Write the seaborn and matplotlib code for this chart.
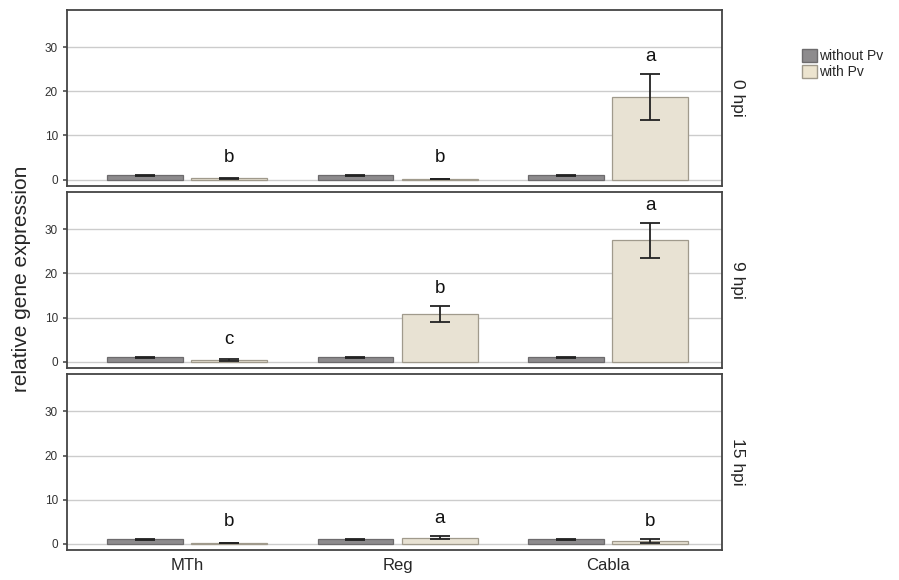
import matplotlib
matplotlib.use("Agg")
import matplotlib.pyplot as plt
import numpy as np
import pandas as pd
import seaborn as sns
from matplotlib.patches import Patch

genes = ["MTh", "Reg", "Cabla"]
times = ["0 hpi", "9 hpi", "15 hpi"]
treatments = ["without Pv", "with Pv"]

# mean relative expression, rows = time, cols = gene
without_pv = [[1.0, 1.0, 1.0], [1.0, 1.0, 1.0], [1.0, 1.0, 1.0]]
with_pv = [[0.3, 0.15, 18.8], [0.4, 10.8, 27.5], [0.15, 1.35, 0.65]]
# standard errors
without_err = [[0.15, 0.15, 0.15], [0.15, 0.15, 0.15], [0.15, 0.15, 0.15]]
with_err = [[0.1, 0.05, 5.2], [0.15, 1.9, 4.0], [0.05, 0.4, 0.4]]
# significance letters for "with Pv" bars
letters = [["b", "b", "a"], ["c", "b", "a"], ["b", "a", "b"]]

colors = {"without Pv": "#8d8b8d", "with Pv": "#ece4cf"}
edges = {"without Pv": "#6d6b6d", "with Pv": "#a09a8c"}

rows = []
for ti, t in enumerate(times):
    for gi, g in enumerate(genes):
        rows.append({"time": t, "gene": g, "treatment": "without Pv",
                     "value": without_pv[ti][gi], "err": without_err[ti][gi]})
        rows.append({"time": t, "gene": g, "treatment": "with Pv",
                     "value": with_pv[ti][gi], "err": with_err[ti][gi]})
df = pd.DataFrame(rows)

sns.set_theme(style="white")
plt.rcParams["font.family"] = ["Liberation Sans", "DejaVu Sans"]

fig, axes = plt.subplots(3, 1, figsize=(8.99, 5.8), dpi=100, sharex=True)
fig.subplots_adjust(left=0.0745, right=0.803, top=0.983, bottom=0.052, hspace=0.035)

for ti, (ax, t) in enumerate(zip(axes, times)):
    sub = df[df["time"] == t]
    sns.barplot(data=sub, x="gene", y="value", hue="treatment", order=genes,
                hue_order=treatments, palette=colors, width=0.8, gap=0.1,
                errorbar=None, legend=False, ax=ax, zorder=2)
    for cont, tr in zip(ax.containers, treatments):
        for gi, bar in enumerate(cont):
            bar.set_edgecolor(edges[tr])
            bar.set_linewidth(0.9)
            cx = bar.get_x() + bar.get_width() / 2
            val = sub[(sub["gene"] == genes[gi]) & (sub["treatment"] == tr)]
            v = float(val["value"].iloc[0])
            e = float(val["err"].iloc[0])
            ax.errorbar(cx, v, yerr=e, color="#222222", capsize=7.5,
                        capthick=1.3, elinewidth=1.3, zorder=3)
            if tr == "with Pv":
                ax.text(cx, max(v + e, 1.0) + 2.0, letters[ti][gi],
                        ha="center", va="bottom", fontsize=13.5, color="#111111")
    ax.set_ylim(-1.4, 38.5)
    ax.set_xlim(-0.57, 2.54)
    ax.set_yticks([0, 10, 20, 30])
    ax.yaxis.grid(True, color="#cccccc", linewidth=1.0, zorder=0)
    ax.set_axisbelow(True)
    ax.tick_params(axis="y", labelsize=8.5, labelcolor="#333333", length=3,
                   left=True, color="#555555")
    ax.tick_params(axis="x", labelsize=12, length=0, pad=6)
    ax.set_xlabel("")
    ax.set_ylabel("")
    for sp in ax.spines.values():
        sp.set_color("#444444")
        sp.set_linewidth(1.3)
    ax.text(1.012, 0.5, t, transform=ax.transAxes, rotation=-90,
            ha="left", va="center", fontsize=12.5)

fig.text(0.024, 0.52, "relative gene expression", rotation=90, ha="center",
         va="center", fontsize=15)

handles = [Patch(facecolor=colors[tr], edgecolor=edges[tr], label=tr) for tr in treatments]
fig.legend(handles=handles, loc="upper left", bbox_to_anchor=(0.886, 0.925),
           frameon=False, fontsize=10, handlelength=1.1, handleheight=1.1,
           handletextpad=0.15, labelspacing=0.1, borderaxespad=0)

fig.savefig("out.png", dpi=100)
